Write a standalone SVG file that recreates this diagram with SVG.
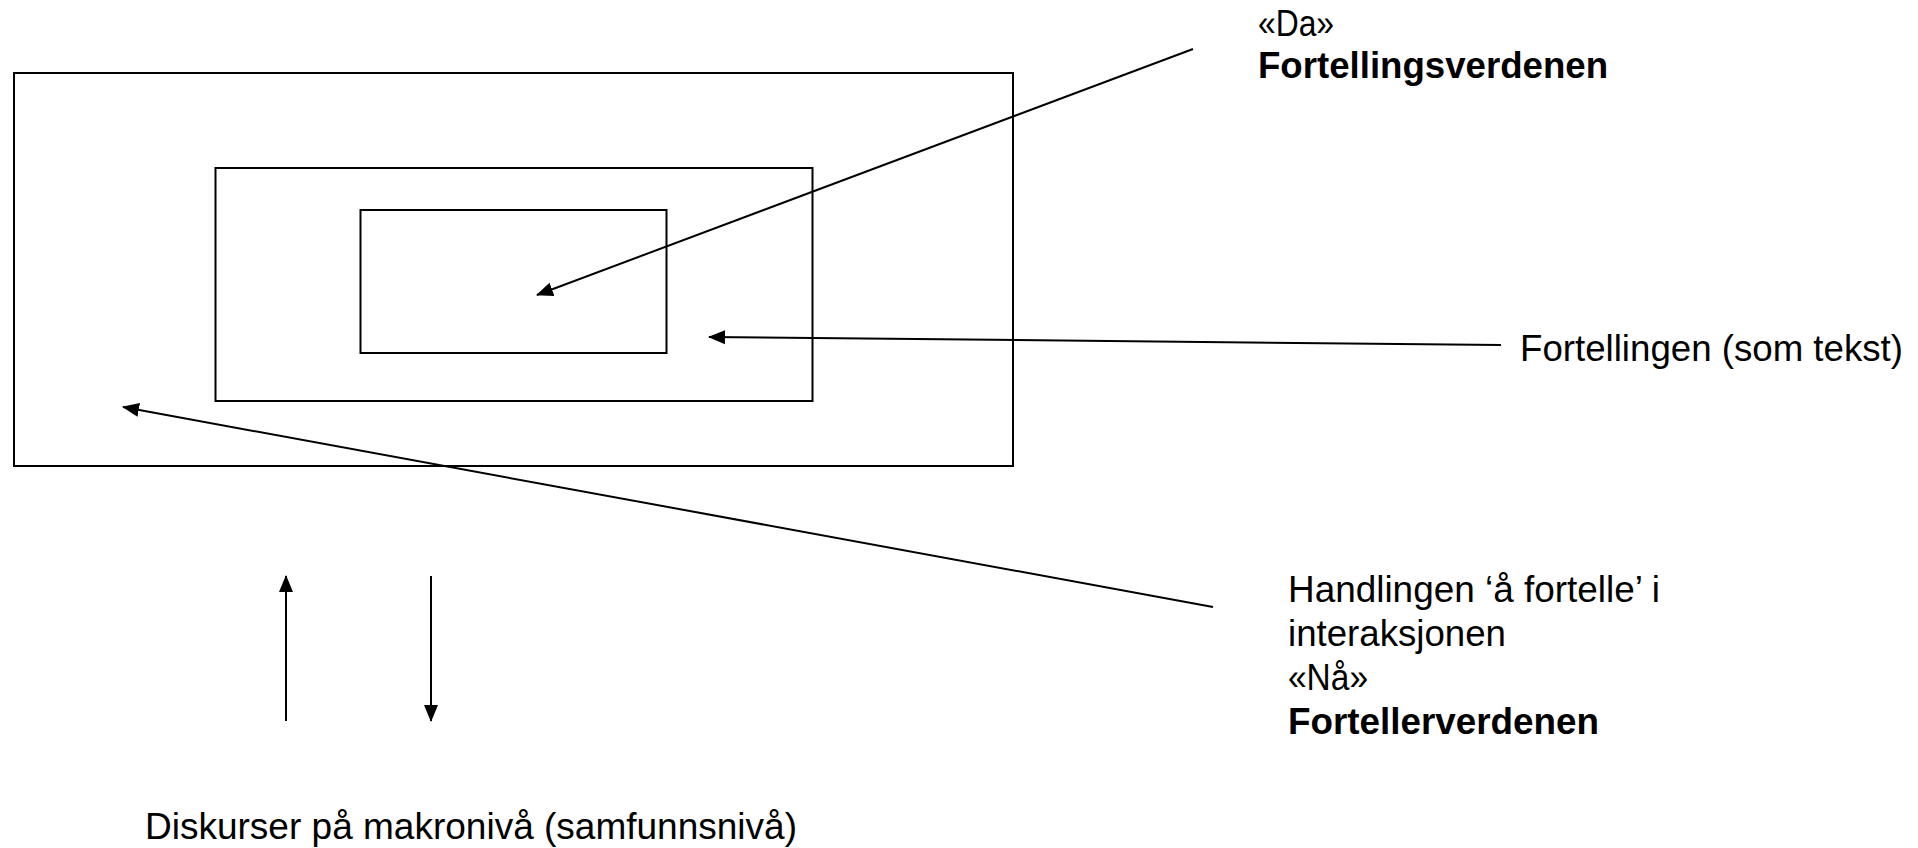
<svg xmlns="http://www.w3.org/2000/svg" width="1918" height="848" viewBox="0 0 1918 848">
  <style>
    .box { fill: none; stroke: #000; stroke-width: 2; }
    .conn { fill: none; stroke: #000; stroke-width: 2; }
    .t { font-family: "Liberation Sans", Arial, sans-serif; font-size: 36px; fill: #000; }
    .b { font-weight: bold; }
  </style>
  <defs>
    <marker id="ah" markerUnits="userSpaceOnUse" markerWidth="17" markerHeight="17" viewBox="0 0 17 17" refX="16" refY="8.5" orient="auto">
      <path d="M0,1.5 L17,8.5 L0,15.5 Z" fill="#000"/>
    </marker>
  </defs>
  <rect width="1918" height="848" fill="#fff"/>
  <g id="outer-box"><rect class="box" x="14" y="73" width="999" height="393"/></g>
  <g id="middle-box"><rect class="box" x="215.5" y="168" width="597" height="233"/></g>
  <g id="inner-box"><rect class="box" x="360.5" y="210" width="306" height="143"/></g>
  <g id="label-da">
    <text class="t" x="1258" y="36" textLength="76" lengthAdjust="spacingAndGlyphs">«Da»</text>
    <text class="t b" x="1258" y="78" textLength="350" lengthAdjust="spacingAndGlyphs">Fortellingsverdenen</text>
  </g>
  <g id="label-fortellingen">
    <text class="t" x="1520" y="361" textLength="383" lengthAdjust="spacingAndGlyphs">Fortellingen (som tekst)</text>
  </g>
  <g id="label-handlingen">
    <text class="t" x="1288" y="602" textLength="372" lengthAdjust="spacingAndGlyphs">Handlingen ‘å fortelle’ i</text>
    <text class="t" x="1288" y="646" textLength="218" lengthAdjust="spacingAndGlyphs">interaksjonen</text>
    <text class="t" x="1288" y="690" textLength="80" lengthAdjust="spacingAndGlyphs">«Nå»</text>
    <text class="t b" x="1288" y="734" textLength="311" lengthAdjust="spacingAndGlyphs">Fortellerverdenen</text>
  </g>
  <g id="label-diskurser">
    <text class="t" x="145" y="839" textLength="652" lengthAdjust="spacingAndGlyphs">Diskurser på makronivå (samfunnsnivå)</text>
  </g>
  <g id="connectors">
    <line class="conn" x1="1193" y1="49" x2="537" y2="295" marker-end="url(#ah)"/>
    <line class="conn" x1="1501" y1="345" x2="709" y2="337" marker-end="url(#ah)"/>
    <line class="conn" x1="1213" y1="607" x2="123" y2="407" marker-end="url(#ah)"/>
    <line class="conn" x1="286" y1="721" x2="286" y2="576" marker-end="url(#ah)"/>
    <line class="conn" x1="431" y1="576" x2="431" y2="721" marker-end="url(#ah)"/>
  </g>
</svg>
